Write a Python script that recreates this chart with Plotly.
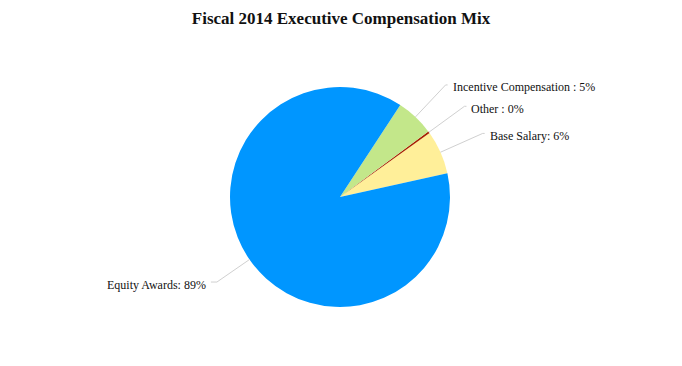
import math
import plotly.graph_objects as go

categories = ["Base Salary", "Other", "Incentive Compensation", "Equity Awards"]
values = [6.4, 0.3, 5.6, 87.7]
label_texts = ["Base Salary: 6%", "Other : 0%", "Incentive Compensation : 5%", "Equity Awards: 89%"]
colors = ["#FFEF99", "#A82000", "#C3E78A", "#0096FF"]

W, H = 682, 366
OFF = 8  # page body margin
cx, cy, R = 340, 197, 110
start_deg = 12.5  # math angle where the first slice starts (counterclockwise)

def px(x):
    return (x - OFF) / W

def py(y):
    return 1 - (y - OFF) / H

total = sum(values)
rotation = 90 - start_deg - 360 * values[0] / total

fig = go.Figure(go.Pie(
    labels=categories, values=values, sort=False, direction="counterclockwise",
    rotation=rotation, marker=dict(colors=colors, line=dict(width=0)),
    textinfo="none", hoverinfo="label+percent",
    domain=dict(x=[px(cx - R), px(cx + R)], y=[py(cy + R), py(cy - R)]),
    showlegend=False,
))

label_cfg = {
    "Base Salary": (1.42, 2, "right"),
    "Other": (1.40, 2, "right"),
    "Incentive Compensation": (1.40, 2, "right"),
    "Equity Awards": (1.36, 6, "left"),
}
shapes = []
annotations = []
acc = 0.0
for cat, v, txt in zip(categories, values, label_texts):
    mid = math.radians(start_deg + 360 * (acc + v / 2) / total)
    acc += v
    ext, hoff, side = label_cfg[cat]
    x0 = cx + R * math.cos(mid)
    y0 = cy - R * math.sin(mid)
    x1 = cx + R * ext * math.cos(mid)
    y1 = cy - R * ext * math.sin(mid)
    x2 = x1 + (hoff if side == "right" else -hoff)
    shapes.append(dict(type="path", xref="paper", yref="paper",
                       path=f"M {px(x0)},{py(y0)} L {px(x1)},{py(y1)} L {px(x2)},{py(y1)}",
                       line=dict(color="#D0D0D0", width=1)))
    annotations.append(dict(
        x=px(x2 + (3 if side == "right" else -3)), y=py(y1 + 2.5), xref="paper", yref="paper",
        text=txt, showarrow=False, xanchor="left" if side == "right" else "right",
        yanchor="middle", font=dict(family="Liberation Serif", size=12, color="#111111")))

fig.update_layout(
    width=W, height=H, margin=dict(l=0, r=0, t=0, b=0),
    paper_bgcolor="white", plot_bgcolor="white",
    title=dict(text="<b>Fiscal 2014 Executive Compensation Mix</b>", x=px(341), xanchor="center",
               y=py(18.5), yanchor="middle",
               font=dict(family="Liberation Serif", size=17, color="#111111")),
    shapes=shapes, annotations=annotations,
)

fig.write_html("out.html")
